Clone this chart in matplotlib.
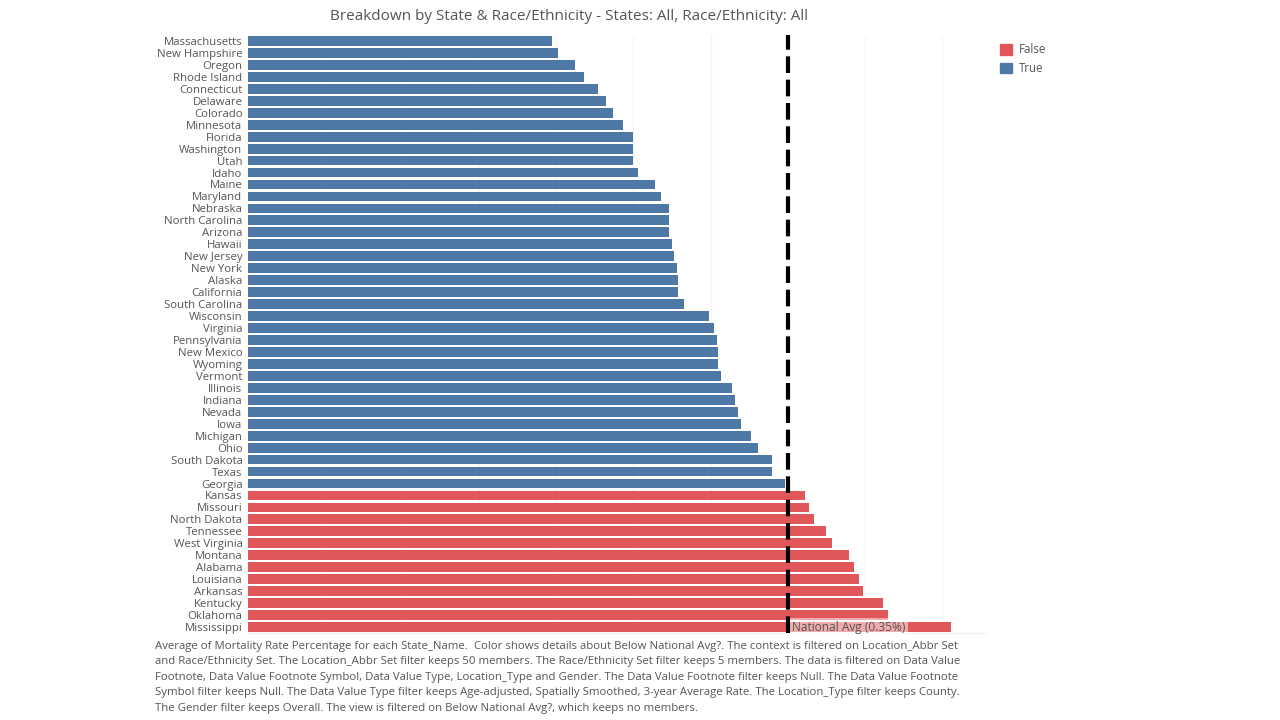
import numpy as np
import matplotlib.pyplot as plt
from matplotlib.patches import Patch

plt.rcParams['font.family'] = ['Open Sans', 'DejaVu Sans']

# Data (mortality rate %)
states = ["Massachusetts", "New Hampshire", "Oregon", "Rhode Island", "Connecticut",
          "Delaware", "Colorado", "Minnesota", "Florida", "Washington", "Utah", "Idaho",
          "Maine", "Maryland", "Nebraska", "North Carolina", "Arizona", "Hawaii",
          "New Jersey", "New York", "Alaska", "California", "South Carolina", "Wisconsin",
          "Virginia", "Pennsylvania", "New Mexico", "Wyoming", "Vermont", "Illinois",
          "Indiana", "Nevada", "Iowa", "Michigan", "Ohio", "South Dakota", "Texas",
          "Georgia", "Kansas", "Missouri", "North Dakota", "Tennessee", "West Virginia",
          "Montana", "Alabama", "Louisiana", "Arkansas", "Kentucky", "Oklahoma",
          "Mississippi"]
rates = [0.197, 0.201, 0.212, 0.218, 0.227, 0.232, 0.237, 0.243, 0.250, 0.250, 0.250,
         0.253, 0.264, 0.268, 0.273, 0.273, 0.273, 0.275, 0.276, 0.278, 0.279, 0.279,
         0.283, 0.299, 0.302, 0.304, 0.305, 0.305, 0.307, 0.314, 0.316, 0.318, 0.320,
         0.326, 0.331, 0.340, 0.340, 0.348, 0.361, 0.364, 0.367, 0.375, 0.379, 0.390,
         0.393, 0.396, 0.399, 0.412, 0.415, 0.456]
national_avg = 0.35

BLUE = "#4e79a7"
RED = "#e15759"
GRAY = "#555555"

below = [r < national_avg for r in rates]
colors = [BLUE if b else RED for b in below]

fig = plt.figure(figsize=(12.8, 7.2), dpi=100)
ax = fig.add_axes([248 / 1280, 1 - 633 / 720, (985 - 248) / 1280, (633 - 35) / 720])

y = np.arange(len(states))
ax.barh(y, rates, height=0.82, color=colors, zorder=2)
ax.set_ylim(len(states) - 0.5, -0.5)
ax.set_xlim(0, 0.478)

ax.set_yticks(y)
ax.set_yticklabels(states, fontsize=8.2, color=GRAY)
ax.tick_params(axis='y', length=0, pad=4)
ax.set_xticks(np.arange(0.05, 0.48, 0.05))
ax.tick_params(axis='x', length=0, labelbottom=False)
ax.grid(axis='x', color="#f4f4f4", linewidth=0.8, zorder=0)
for s in ['top', 'right', 'left']:
    ax.spines[s].set_visible(False)
ax.spines['bottom'].set_color("#f0f0f0")

ax.axvline(national_avg, color='black', linewidth=3, linestyle=(0, (4, 1.6)), zorder=4)
ax.text(national_avg + 0.003, len(states) - 1, "National Avg (0.35%)", fontsize=8.6,
        color=GRAY, va='center', ha='left', zorder=5,
        bbox=dict(facecolor='white', alpha=0.5, edgecolor='none', pad=1.5))

fig.text(569 / 1280, 1 - 17 / 720,
         "Breakdown by State & Race/Ethnicity - States: All, Race/Ethnicity: All",
         ha='center', va='center', fontsize=11, color=GRAY)

handles = [Patch(color=RED, label="False"), Patch(color=BLUE, label="True")]
fig.legend(handles=handles, loc='upper left', bbox_to_anchor=(990 / 1280, 1 - 33 / 720),
           frameon=False, fontsize=8.3, handlelength=1.0, handleheight=1.0,
           labelcolor=GRAY, handletextpad=0.6, labelspacing=0.5)

note = ("Average of Mortality Rate Percentage for each State_Name.  Color shows details about Below National Avg?. The context is filtered on Location_Abbr Set\n"
        "and Race/Ethnicity Set. The Location_Abbr Set filter keeps 50 members. The Race/Ethnicity Set filter keeps 5 members. The data is filtered on Data Value\n"
        "Footnote, Data Value Footnote Symbol, Data Value Type, Location_Type and Gender. The Data Value Footnote filter keeps Null. The Data Value Footnote\n"
        "Symbol filter keeps Null. The Data Value Type filter keeps Age-adjusted, Spatially Smoothed, 3-year Average Rate. The Location_Type filter keeps County.\n"
        "The Gender filter keeps Overall. The view is filtered on Below National Avg?, which keeps no members.")
fig.text(155 / 1280, 1 - 641 / 720, note, ha='left', va='top', fontsize=8.2,
         color=GRAY, linespacing=1.55)

fig.savefig("out.png", dpi=100)
